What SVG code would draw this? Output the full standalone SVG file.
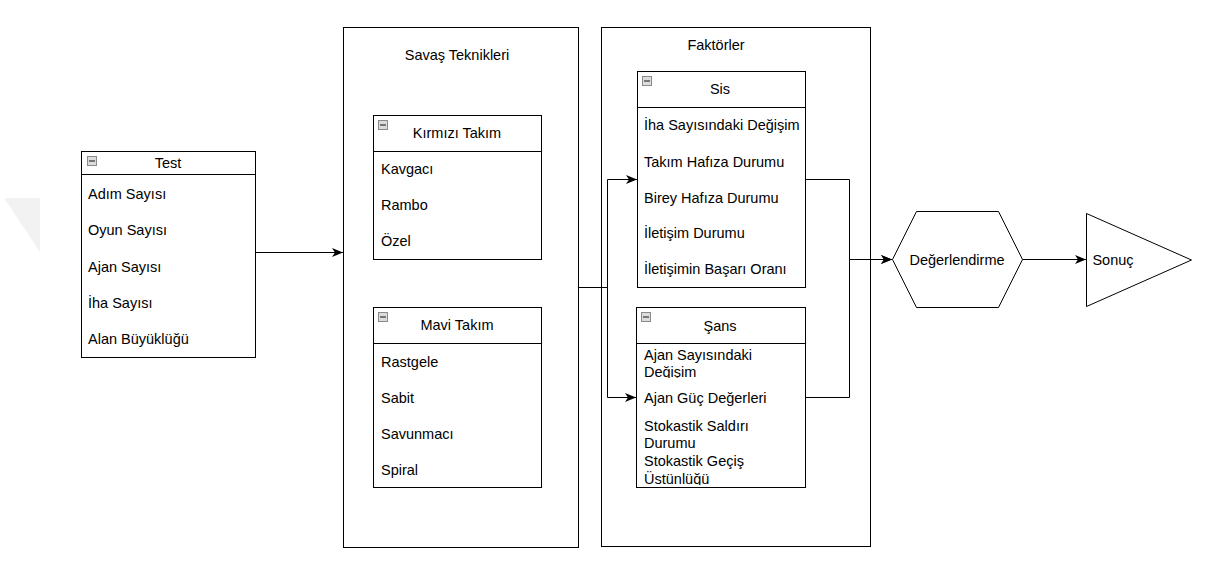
<svg xmlns="http://www.w3.org/2000/svg" width="1207" height="584" viewBox="0 0 1207 584">
<style>
  .box { fill: #fff; stroke: #000; stroke-width: 1; }
  .hl { stroke: #000; stroke-width: 1; fill: none; }
  .t { font-family: "Liberation Sans", Arial, Helvetica, sans-serif; font-size: 14.5px; fill: #000; }
  .c { text-anchor: middle; dominant-baseline: central; }
  .l { text-anchor: start; dominant-baseline: central; }
  .conn { fill: none; stroke: #000; stroke-width: 1; }
  .ico { fill: #dcdcdc; stroke: #8a8a8a; stroke-width: 1; }
  .icol { stroke: #333; stroke-width: 1.2; }
</style>
<defs>
  <marker id="arr" markerUnits="userSpaceOnUse" markerWidth="13" markerHeight="10" refX="11" refY="4.5" orient="auto">
    <path d="M0,0 L11,4.5 L0,9 L3,4.5 Z" fill="#000"/>
  </marker>
  <g id="minus">
    <rect class="ico" x="0.5" y="0.5" width="9" height="9"/>
    <line class="icol" x1="2" y1="5" x2="8" y2="5"/>
  </g>
  <clipPath id="clipSans"><rect x="636" y="343" width="169" height="142"/></clipPath>
  <clipPath id="clipSans1"><rect x="636" y="343" width="169" height="35"/></clipPath>
</defs>
<rect width="1207" height="584" fill="#fff"/>

<!-- faint watermark shape -->
<polygon points="4,198 40,198 40,252" fill="#f2f2f2"/>

<g id="test">
  <rect class="box" x="81.5" y="151.5" width="174" height="206"/>
  <line class="hl" x1="81.5" y1="174.5" x2="255.5" y2="174.5"/>
  <use href="#minus" x="87" y="156"/>
  <text class="t c" x="168" y="163">Test</text>
  <text class="t l" x="88" y="194">Adım Sayısı</text>
  <text class="t l" x="88" y="230">Oyun Sayısı</text>
  <text class="t l" x="88" y="267">Ajan Sayısı</text>
  <text class="t l" x="88" y="303">İha Sayısı</text>
  <text class="t l" x="88" y="339">Alan Büyüklüğü</text>
</g>

<g id="savas">
  <rect class="box" x="343.5" y="27.5" width="235" height="520"/>
  <text class="t c" x="457" y="55">Savaş Teknikleri</text>
</g>

<g id="kirmizi">
  <rect class="box" x="373.5" y="115.5" width="168" height="144"/>
  <line class="hl" x1="373.5" y1="151.5" x2="541.5" y2="151.5"/>
  <use href="#minus" x="378" y="120"/>
  <text class="t c" x="457" y="133">Kırmızı Takım</text>
  <text class="t l" x="381" y="169">Kavgacı</text>
  <text class="t l" x="381" y="205">Rambo</text>
  <text class="t l" x="381" y="241">Özel</text>
</g>

<g id="mavi">
  <rect class="box" x="373.5" y="307.5" width="168" height="180"/>
  <line class="hl" x1="373.5" y1="343.5" x2="541.5" y2="343.5"/>
  <use href="#minus" x="378" y="312"/>
  <text class="t c" x="457" y="325">Mavi Takım</text>
  <text class="t l" x="381" y="362">Rastgele</text>
  <text class="t l" x="381" y="398">Sabit</text>
  <text class="t l" x="381" y="434">Savunmacı</text>
  <text class="t l" x="381" y="470">Spiral</text>
</g>

<g id="faktorler">
  <rect class="box" x="601.5" y="27.5" width="269" height="519"/>
  <text class="t c" x="716" y="45">Faktörler</text>
</g>

<g id="sis">
  <rect class="box" x="637.5" y="71.5" width="168" height="216"/>
  <line class="hl" x1="637.5" y1="107.5" x2="805.5" y2="107.5"/>
  <use href="#minus" x="642" y="76"/>
  <text class="t c" x="720" y="89">Sis</text>
  <text class="t l" x="644" y="125">İha Sayısındaki Değişim</text>
  <text class="t l" x="644" y="162">Takım Hafıza Durumu</text>
  <text class="t l" x="644" y="198">Birey Hafıza Durumu</text>
  <text class="t l" x="644" y="233">İletişim Durumu</text>
  <text class="t l" x="644" y="269">İletişimin Başarı Oranı</text>
</g>

<g id="sans">
  <rect class="box" x="636.5" y="307.5" width="169" height="180"/>
  <line class="hl" x1="636.5" y1="343.5" x2="805.5" y2="343.5"/>
  <use href="#minus" x="641" y="312"/>
  <text class="t c" x="720" y="326">Şans</text>
  <g clip-path="url(#clipSans1)">
    <text class="t l" x="644" y="355">Ajan Sayısındaki</text>
    <text class="t l" x="644" y="372">Değişim</text>
  </g>
  <g clip-path="url(#clipSans)">
    <text class="t l" x="644" y="398">Ajan Güç Değerleri</text>
    <text class="t l" x="644" y="426">Stokastik Saldırı</text>
    <text class="t l" x="644" y="443">Durumu</text>
    <text class="t l" x="644" y="461">Stokastik Geçiş</text>
    <text class="t l" x="644" y="479">Üstünlüğü</text>
  </g>
</g>

<g id="degerlendirme">
  <polygon class="box" points="892.5,259.5 916.5,211.5 998.5,211.5 1022.5,259.5 998.5,307.5 916.5,307.5"/>
  <text class="t c" x="957" y="260">Değerlendirme</text>
</g>

<g id="sonuc">
  <polygon class="box" points="1086.5,213.5 1191.5,260 1086.5,306.5"/>
  <text class="t c" x="1113" y="260">Sonuç</text>
</g>

<g id="connectors">
  <path class="conn" d="M255.5,252.5 H343" marker-end="url(#arr)"/>
  <path class="conn" d="M578.5,287.5 H607.5 V179.5 H637" marker-end="url(#arr)"/>
  <path class="conn" d="M578.5,287.5 H607.5 V397.5 H636" marker-end="url(#arr)"/>
  <path class="conn" d="M805.5,179.5 H849.5 V259.5 H892" marker-end="url(#arr)"/>
  <path class="conn" d="M805.5,397.5 H849.5 V259.5 H892" marker-end="url(#arr)"/>
  <path class="conn" d="M1022.5,259.5 H1086" marker-end="url(#arr)"/>
</g>
</svg>
